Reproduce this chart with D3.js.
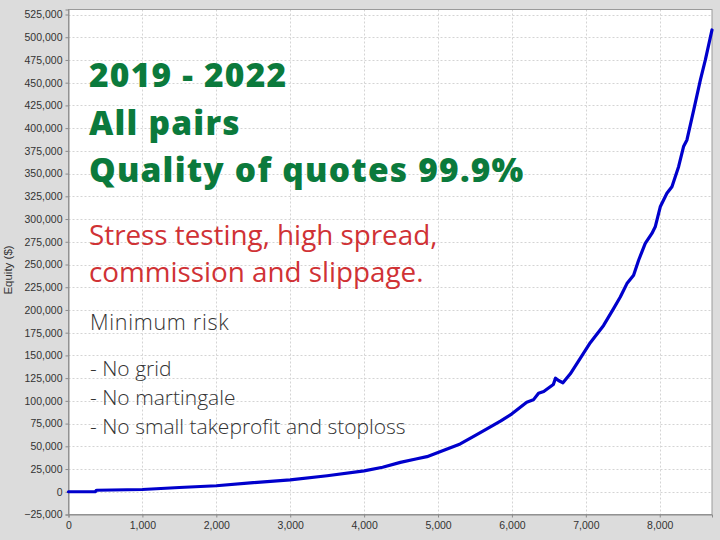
<!DOCTYPE html>
<html>
<head>
<meta charset="utf-8">
<script src="https://cdn.jsdelivr.net/npm/d3@7"></script>
<style>
  html, body { margin: 0; padding: 0; background: #dcdcdc; }
  svg { display: block; }
</style>
</head>
<body>
<svg id="chart" width="720" height="540"></svg>
<script>
// ---- data ----
const trades = [0, 360, 380, 1000, 1500, 2000, 2500, 3000, 3500, 4000, 4250, 4490, 4700, 4850, 5000, 5300, 5500, 5685, 5850, 6000, 6200, 6290, 6360, 6430, 6560, 6590, 6630, 6690, 6790, 6950, 7060, 7240, 7375, 7466, 7556, 7646, 7714, 7804, 7894, 7939, 8007, 8097, 8165, 8255, 8322, 8368, 8460, 8550, 8617, 8707];
const equity = [0, 0, 1700, 2500, 4700, 6600, 10000, 13000, 17600, 23000, 27000, 32300, 36000, 38600, 43300, 52600, 61700, 70200, 78000, 85700, 98500, 101100, 108400, 110300, 118000, 125000, 122400, 119900, 129800, 150000, 164000, 183000, 201500, 214300, 229000, 238200, 254700, 273200, 284200, 291500, 313500, 328300, 335600, 357600, 379700, 387000, 420000, 453000, 475000, 508000];
const xTicks = [0, 1000, 2000, 3000, 4000, 5000, 6000, 7000, 8000];
const yTicks = [-25000, 0, 25000, 50000, 75000, 100000, 125000, 150000, 175000, 200000, 225000, 250000, 275000, 300000, 325000, 350000, 375000, 400000, 425000, 450000, 475000, 500000, 525000];
const yLabel = "Equity ($)";
const greenLines = ["2019 - 2022", "All pairs", "Quality of quotes 99.9%"];
const redLines = ["Stress testing, high spread,", "commission and slippage."];
const greyLines = ["Minimum risk"];
const bulletLines = ["- No grid", "- No martingale", "- No small takeprofit and stoploss"];

// ---- layout ----
const L = 68.5, R = 712, T = 9.5, B = 514.5;
const svg = d3.select("#chart");
svg.append("rect").attr("width", 720).attr("height", 540).attr("fill", "#dcdcdc");

const x = d3.scaleLinear().domain([0, 8707]).range([L, R]);
const y = d3.scaleLinear().domain([-25000, 530500]).range([B, T]);

svg.append("rect").attr("x", L).attr("y", T).attr("width", R - L).attr("height", B - T)
  .attr("fill", "#ffffff");

// grid
const grid = svg.append("g").attr("stroke", "#d4d4d4").attr("stroke-width", 1).attr("stroke-dasharray", "2,2");
grid.selectAll("line.v").data(xTicks.slice(1)).join("line")
  .attr("x1", d => Math.round(x(d)) + 0.5).attr("x2", d => Math.round(x(d)) + 0.5)
  .attr("y1", T).attr("y2", B);
grid.selectAll("line.h").data(yTicks.slice(1)).join("line")
  .attr("y1", d => Math.round(y(d)) + 0.5).attr("y2", d => Math.round(y(d)) + 0.5)
  .attr("x1", L).attr("x2", R);

// plot border
svg.append("rect").attr("x", L).attr("y", T).attr("width", R - L).attr("height", B - T)
  .attr("fill", "none").attr("stroke", "#9a9a9a").attr("stroke-width", 1);

// axes
const fmt = d3.format(",");
const yAxis = d3.axisLeft(y).tickValues(yTicks).tickFormat(fmt).tickSize(3).tickPadding(3);
const xAxis = d3.axisBottom(x).tickValues(xTicks).tickFormat(fmt).tickSize(3).tickPadding(4);
const gy = svg.append("g").attr("transform", `translate(${L},0)`).call(yAxis);
const gx = svg.append("g").attr("transform", `translate(0,${B})`).call(xAxis);
[gx, gy].forEach(g => {
  g.select(".domain").attr("stroke", "#8a8a8a");
  g.selectAll(".tick line").attr("stroke", "#8a8a8a");
  g.selectAll(".tick text").attr("fill", "#333").attr("font-family", "Liberation Sans, Arial, sans-serif").attr("font-size", 10.5);
});

svg.append("text").attr("transform", "translate(12,270) rotate(-90)")
  .attr("text-anchor", "middle").attr("font-family", "Liberation Sans, Arial, sans-serif")
  .attr("font-size", 11.5).attr("fill", "#333").text(yLabel);

// line
const pts = trades.map((t, i) => [t, equity[i]]);
svg.append("path").datum(pts)
  .attr("fill", "none").attr("stroke", "#0000cc").attr("stroke-width", 3.2)
  .attr("stroke-linejoin", "round").attr("stroke-linecap", "round")
  .attr("d", d3.line().x(d => x(d[0])).y(d => y(d[1])));

// annotation text
const ff = "'Open Sans', 'Noto Sans', sans-serif";
svg.append("g").selectAll("text").data(greenLines).join("text")
  .attr("x", 89).attr("y", (d, i) => 87 + i * 47.5)
  .attr("font-family", ff).attr("font-weight", 800).attr("font-size", 33.5)
  .attr("letter-spacing", 1.2)
  .attr("fill", "#0b7a3c").text(d => d);
svg.append("g").selectAll("text").data(redLines).join("text")
  .attr("x", 89).attr("y", (d, i) => 245 + i * 36.5)
  .attr("font-family", ff).attr("font-weight", 400).attr("font-size", 27.8)
  .attr("fill", "#d03235").text(d => d);
svg.append("g").selectAll("text").data(greyLines).join("text")
  .attr("x", 90).attr("y", 330)
  .attr("font-family", ff).attr("font-weight", 300).attr("font-size", 21.5)
  .attr("letter-spacing", 0.7)
  .attr("fill", "#333").text(d => d);
svg.append("g").selectAll("text").data(bulletLines).join("text")
  .attr("x", 90).attr("y", (d, i) => 376 + i * 29)
  .attr("font-family", ff).attr("font-weight", 300).attr("font-size", 21)
  .attr("fill", "#333").text(d => d);
</script>
</body>
</html>
